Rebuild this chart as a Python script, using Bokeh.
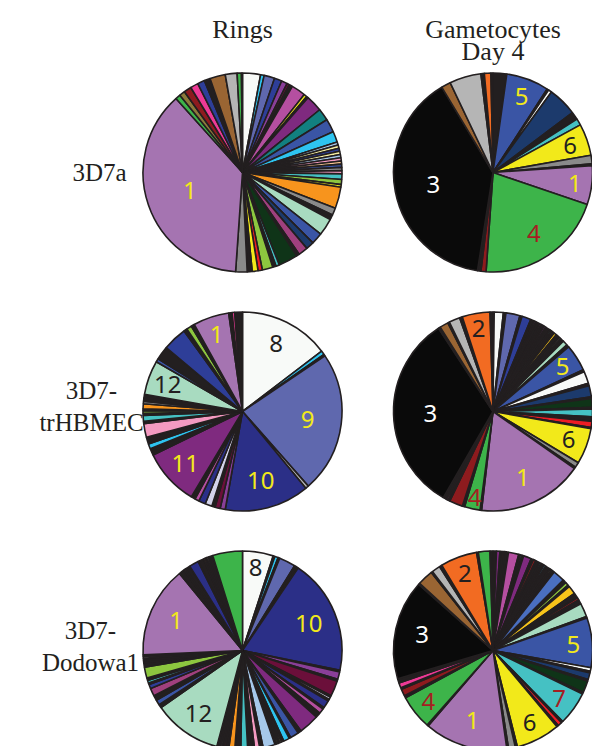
import math
from bokeh.plotting import figure
from bokeh.models import Range1d, ColumnDataSource
from bokeh.core.properties import value
from bokeh.embed import file_html
from bokeh.resources import INLINE

# ---------------- palette (clone colours) ----------------
PAL = {
    "K": "#231f20", "B3": "#0a0a0a", "W": "#f8faf8", "CY": "#2ec4f0", "SL": "#5f68ae",
    "NV": "#2b2f87", "NB": "#2e3e98", "PU": "#8a3f98", "MG": "#b54fa0", "YE": "#f2e91a",
    "PP": "#7f2a7f", "TE": "#128080", "BL": "#3a55a5", "LB": "#a6c8ea", "LY": "#f4eca0",
    "PK": "#f49ac1", "PE": "#f7c490", "GR": "#8a8a8a", "TQ": "#45c1c3", "LG": "#8dc63f",
    "OR": "#f7941d", "MI": "#a8dbc0", "RD": "#ed1c24", "DN": "#1c3a6c", "MA": "#a0407e",
    "DG": "#0f3418", "L1": "#a574b1", "GN": "#3db44a", "OL": "#8c7a3a", "DR": "#8e1b1e",
    "HP": "#ee3a96", "BR": "#9a6533", "LGY": "#b5b5b5", "OG": "#f26b22", "WN": "#6b0f3a",
    "LV": "#d3d3ea", "GO": "#f7c41a", "MB": "#4a6fc0",
}
LABEL_COLOR = {"L1": "#f2e91a", "BL": "#f2e91a", "SL": "#f2e91a", "NV": "#f2e91a",
               "PP": "#f2e91a", "YE": "#231f20", "W": "#231f20", "MI": "#231f20",
               "OG": "#231f20", "B3": "#ffffff", "GN": "#a51e22", "TQ": "#a51e22"}

columns = ["Rings", "Gametocytes\nDay 4"]
rows = ["3D7a", "3D7-\ntrHBMEC", "3D7-\nDodowa1"]

# ---------------- slice shares (clockwise from 12 o'clock) ----------------
rings_3d7a = [10.5, 2.1, 6.2, 4.4, 3.4, 1.5, 2.0, 8.3, 1.8, 1.0,
              9.7, 7.1, 7.8, 6.3, 1.87, 1.87, 1.87, 1.87, 1.87, 1.87,
              1.87, 1.87, 1.87, 1.87, 3.2, 3.0, 1.5, 12.6, 4.1, 2.0,
              1.0, 10.0, 6.8, 4.7, 5.6, 1.7, 11.3, 2.0, 2.0, 6.2,
              2.5, 3.4, 2.9, 6.7, 134.0, 3.0, 3.3, 4.4, 4.6, 4.2,
              3.5, 9.0, 6.9, 2.5, 0.6]
rings_3d7a_cols = ["W", "CY", "SL", "NB", "PU", "WN", "K", "MG", "YE", "K",
                   "PP", "TE", "BL", "CY", "LB", "LY", "NB", "LY", "LB", "PK",
                   "PE", "BL", "GR", "PK", "TQ", "LG", "YE", "OR", "GR", "K",
                   "RD", "MI", "BL", "DN", "MA", "K", "DG", "TQ", "K", "LG",
                   "RD", "YE", "K", "GR", "L1", "GN", "OL", "DR", "HP", "NB",
                   "K", "BR", "LGY", "GN", "K"]
rings_3d7a_labels = {44: ("1", 0.56)}

gam_3d7a = [8, 25, 1, 2, 17, 4.6, 3.8, 18.6, 5, 1,
            22.8, 75.2, 3, 2, 140, 5.5, 18.5, 2, 3.8, 1.2]
gam_3d7a_cols = ["K", "BL", "K", "W", "DN", "K", "TQ", "YE", "GR", "K",
                 "L1", "GN", "DR", "K", "B3", "BR", "LGY", "K", "OG", "K"]
gam_3d7a_labels = {1: ("5", 0.82), 7: ("6", 0.82), 10: ("1", 0.83),
                   11: ("4", 0.74), 14: ("3", 0.61)}

rings_trh = [52.7, 2.3, 1, 82.6, 1.9, 49.5, 3, 3, 2, 4,
             4, 2.5, 2.5, 33, 4, 3, 4, 8, 1.3, 3.4,
             1.3, 1.5, 1, 3, 1.5, 1, 1, 2, 20, 2,
             8, 14, 2, 3, 2, 21, 2, 1.5, 4.5]
rings_trh_cols = ["W", "CY", "K", "SL", "LGY", "NV", "PU", "WN", "K", "LV",
                  "NV", "MG", "K", "PP", "K", "CY", "K", "PK", "K", "TQ",
                  "K", "LG", "K", "OR", "GR", "K", "RD", "K", "MI", "BL",
                  "K", "NB", "K", "LG", "K", "L1", "K", "HP", "K"]
rings_trh_labels = {0: ("8", 0.76), 3: ("9", 0.66), 5: ("10", 0.72),
                    13: ("11", 0.78), 28: ("12", 0.80), 35: ("1", 0.82)}

gam_trh = [0.7, 5.3, 1.5, 8.2, 1.3, 5.3, 2.2, 1, 2.5, 1,
           2, 1, 3, 1, 2, 1.5, 1, 1.5, 1, 2,
           3, 1.5, 15.7, 1.3, 7, 1.5, 6.5, 1, 5, 1,
           4.5, 2.8, 3.5, 0.7, 21, 3, 1, 61.6, 0.9, 9.1,
           1.4, 7.8, 1.2, 1, 2, 116.8, 1.2, 5, 1, 6.4,
           1.6, 16.3, 1.7]
gam_trh_cols = ["K", "W", "K", "SL", "K", "NB", "K", "PU", "K", "MG",
                "K", "PU", "K", "TQ", "K", "GO", "OR", "K", "GR", "K",
                "MI", "K", "BL", "K", "W", "K", "DN", "K", "DG", "K",
                "TQ", "K", "RD", "K", "YE", "GR", "K", "L1", "K", "GN",
                "K", "DR", "K", "HP", "K", "B3", "K", "BR", "K", "LGY",
                "K", "OG", "K"]
gam_trh_labels = {22: ("5", 0.83), 34: ("6", 0.81), 37: ("1", 0.73),
                  39: ("4", 0.88), 45: ("3", 0.63), 51: ("2", 0.85)}

rings_dod = [18, 1, 2, 1, 9.6, 2.4, 67.5, 1, 4.3, 1.2,
             9, 1, 1.5, 1, 4.5, 1, 3, 1, 2, 12,
             2, 5, 1, 3.5, 1.5, 1, 1, 1, 1, 7,
             2, 3, 1.5, 1, 1.5, 4, 3.5, 3.5, 2, 1,
             1, 1, 2, 40, 2, 3, 3, 4.5, 2.5, 1,
             1.5, 1.5, 6.3, 2.7, 1, 1.5, 1, 1, 53.2, 3.3,
             1, 3, 5.5, 3.5, 1, 1, 1, 2.6, 17.4]
rings_dod_cols = ["W", "K", "CY", "K", "SL", "K", "NV", "K", "PU", "K",
                  "WN", "K", "LV", "K", "NV", "K", "MG", "YE", "K", "PP",
                  "K", "BL", "K", "CY", "K", "LY", "K", "LG", "K", "LB",
                  "K", "PK", "K", "GR", "K", "TQ", "K", "OR", "K", "RD",
                  "K", "GR", "K", "MI", "K", "BL", "K", "MA", "NB", "K",
                  "TQ", "K", "LG", "K", "RD", "K", "GR", "K", "L1", "K",
                  "HP", "K", "NV", "K", "BR", "K", "LGY", "K", "GN"]
rings_dod_labels = {0: ("8", 0.84), 6: ("10", 0.72), 43: ("12", 0.77), 58: ("1", 0.73)}

gam_dod = [2, 2, 1.5, 1, 2.5, 6, 1, 1, 1, 4.6,
           1.4, 1.5, 2.5, 1, 2, 1, 3, 1, 2, 7,
           1, 1, 2, 1, 5, 3, 1.5, 2.5, 8, 1,
           29, 2, 1, 4, 1, 7, 1, 19.5, 1, 2.5,
           1, 25.8, 1.2, 4, 1, 48.7, 0.8, 20.1, 1.4, 4,
           1, 3, 2.5, 58.2, 0.8, 9.2, 0.8, 5, 1.5, 21.5,
           1, 6.8, 1.7]
gam_dod_cols = ["K", "PP", "K", "DR", "K", "MG", "K", "CY", "K", "PP",
                "K", "DR", "K", "CY", "K", "CY", "K", "PE", "K", "MB",
                "K", "TQ", "LG", "K", "GO", "K", "DR", "K", "MI", "K",
                "BL", "W", "K", "DN", "K", "DG", "K", "TQ", "K", "RD",
                "K", "YE", "K", "GR", "K", "L1", "K", "GN", "K", "DR",
                "K", "HP", "K", "B3", "K", "BR", "K", "LGY", "K", "OG",
                "K", "GN", "K"]
gam_dod_labels = {30: ("5", 0.81), 37: ("7", 0.82), 41: ("6", 0.81), 45: ("1", 0.73),
                  47: ("4", 0.83), 53: ("3", 0.73), 59: ("2", 0.82)}

pies = [
    (0, 0, rings_3d7a, rings_3d7a_cols, rings_3d7a_labels),
    (0, 1, gam_3d7a, gam_3d7a_cols, gam_3d7a_labels),
    (1, 0, rings_trh, rings_trh_cols, rings_trh_labels),
    (1, 1, gam_trh, gam_trh_cols, gam_trh_labels),
    (2, 0, rings_dod, rings_dod_cols, rings_dod_labels),
    (2, 1, gam_dod, gam_dod_cols, gam_dod_labels),
]

# ---------------- layout (page pixel coords; the page template has no body margin) ----------------
COL_X = [242, 492.5]
ROW_Y = [172, 411, 650]
R = 99.5
W, H = 592, 746

def Y(img_y):
    return H - img_y

p = figure(width=W, height=H, x_range=Range1d(0, W), y_range=Range1d(0, H),
           output_backend="svg", toolbar_location=None, min_border=0)
p.axis.visible = False
p.grid.visible = False
p.outline_line_color = None
p.background_fill_color = "white"

for r, c, vals, cols, labels in pies:
    cx, cy = COL_X[c], Y(ROW_Y[r])
    total = sum(vals)
    starts, ends, fills = [], [], []
    acc = 0.0
    lx, ly, lt, lc = [], [], [], []
    for i, (v, code) in enumerate(zip(vals, cols)):
        a0 = acc / total * 360.0
        acc += v
        a1 = acc / total * 360.0
        starts.append(math.radians(90 - a0))
        ends.append(math.radians(90 - a1))
        fills.append(PAL[code])
        if i in labels:
            txt, rf = labels[i]
            mid = math.radians((a0 + a1) / 2)
            lx.append(cx + rf * R * math.sin(mid))
            ly.append(cy + rf * R * math.cos(mid))
            lt.append(txt)
            lc.append(LABEL_COLOR[code])
    src = ColumnDataSource(dict(x=[cx] * len(vals), y=[cy] * len(vals),
                                s=starts, e=ends, f=fills))
    p.wedge(x="x", y="y", radius=R, start_angle="s", end_angle="e", direction="clock",
            fill_color="f", line_color="#231f20", line_width=1.6, source=src)
    lsrc = ColumnDataSource(dict(x=lx, y=ly, t=lt, c=lc))
    p.text(x="x", y="y", text="t", text_color="c", source=lsrc,
           text_font=value("Noto Sans"), text_font_size="24px",
           text_align="center", text_baseline="middle")

# column headers (vertical centres of each line)
HEAD_MID = [29, 51]
for c, name in enumerate(columns):
    for k, line in enumerate(name.split("\n")):
        p.text(x=[COL_X[c]], y=[Y(HEAD_MID[k])], text=[line], text_color="#231f20",
               text_font=value("Liberation Serif"), text_font_size="26px",
               text_align="center", text_baseline="middle")

# row labels
ROW_LABEL_X = [99, 91, 90]
ROW_LABEL_MID = [172, 406, 646]
for r, name in enumerate(rows):
    lines = name.split("\n")
    n = len(lines)
    for k, line in enumerate(lines):
        mid = ROW_LABEL_MID[r] + (k - (n - 1) / 2) * 32
        p.text(x=[ROW_LABEL_X[r]], y=[Y(mid)], text=[line], text_color="#231f20",
               text_font=value("Liberation Serif"), text_font_size="25px",
               text_align="center", text_baseline="middle")

open("out.html", "w").write(file_html(p, INLINE))
